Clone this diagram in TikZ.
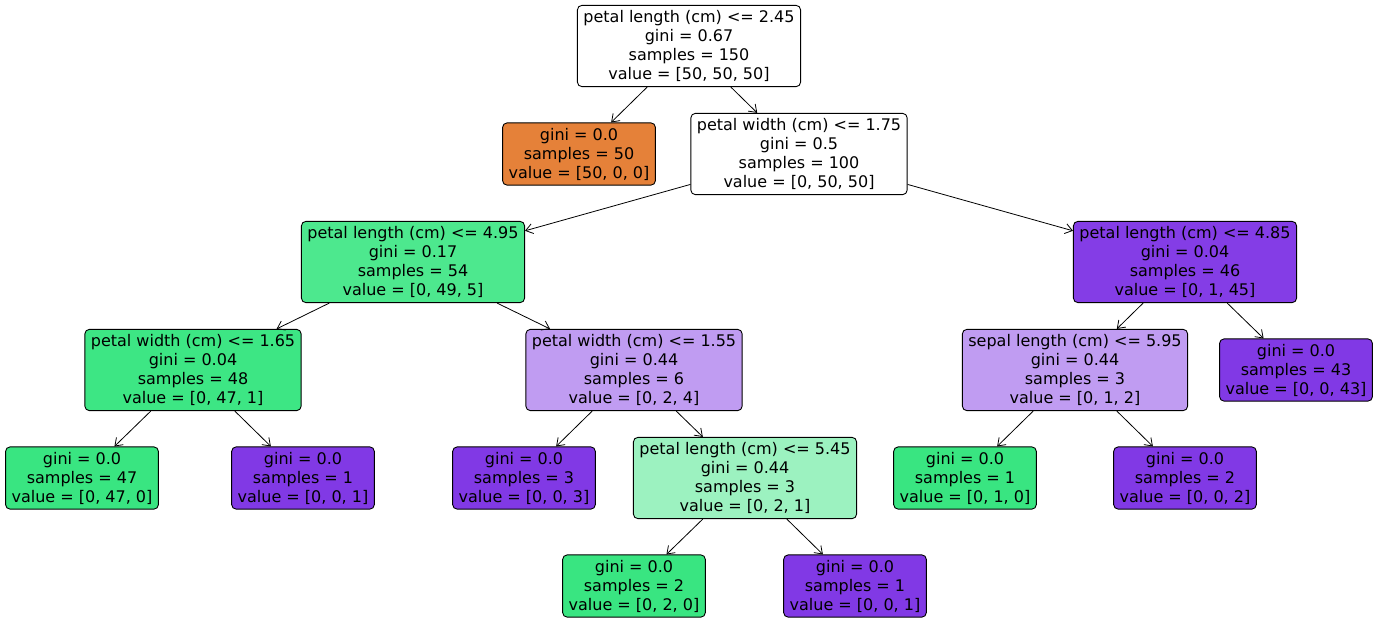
\documentclass[tikz,border=0pt]{standalone}
\usepackage{fontspec}
\setmainfont{DejaVu Sans}
\usetikzlibrary{arrows.meta,positioning}
\definecolor{setosacolor}{RGB}{229, 129, 57}
\definecolor{versicolor}{RGB}{57, 229, 129}
\definecolor{virginicacolor}{RGB}{129, 57, 229}

\begin{document}
\begin{tikzpicture}[
        x=1pt, y=-1pt,
        split/.style={rectangle, draw, rounded corners=4.5pt, align=center, inner xsep=6pt, inner ysep=5pt,
            line width=0.9pt, font=\fontsize{16}{19}\selectfont},
        leaf/.style={split},
        arrow/.style={-{Straight Barb[length=7pt, width=10pt]}, line width=0.8pt}
    ]
        \useasboundingbox (0,0) rectangle (1381,622);

        % Root
        \node[split, fill=white] (root) at (689,46) {petal length (cm) <= 2.45\\gini = 0.67\\samples = 150\\value = [50, 50, 50]};

        % Depth 1
        \node[leaf, fill=setosacolor] (setosa) at (579,154) {gini = 0.0\\samples = 50\\value = [50, 0, 0]};
        \node[split, fill=white] (pw175) at (799,154) {petal width (cm) <= 1.75\\gini = 0.5\\samples = 100\\value = [0, 50, 50]};
        \draw[arrow] (root) -- (setosa);
        \draw[arrow] (root) -- (pw175);

        % Depth 2
        \node[split, fill=versicolor!90!white] (pl495) at (413,262) {petal length (cm) <= 4.95\\gini = 0.17\\samples = 54\\value = [0, 49, 5]};
        \node[split, fill=virginicacolor!98!white] (pl485) at (1185,262) {petal length (cm) <= 4.85\\gini = 0.04\\samples = 46\\value = [0, 1, 45]};
        \draw[arrow] (pw175) -- (pl495);
        \draw[arrow] (pw175) -- (pl485);

        % Depth 3
        \node[split, fill=versicolor!98!white] (pw165) at (193,370) {petal width (cm) <= 1.65\\gini = 0.04\\samples = 48\\value = [0, 47, 1]};
        \node[split, fill=virginicacolor!50!white] (pw155) at (634,370) {petal width (cm) <= 1.55\\gini = 0.44\\samples = 6\\value = [0, 2, 4]};
        \node[split, fill=virginicacolor!50!white] (sl595) at (1075,370) {sepal length (cm) <= 5.95\\gini = 0.44\\samples = 3\\value = [0, 1, 2]};
        \node[leaf, fill=virginicacolor] (leaf43) at (1296,370) {gini = 0.0\\samples = 43\\value = [0, 0, 43]};
        \draw[arrow] (pl495) -- (pw165);
        \draw[arrow] (pl495) -- (pw155);
        \draw[arrow] (pl485) -- (sl595);
        \draw[arrow] (pl485) -- (leaf43);

        % Depth 4
        \node[leaf, fill=versicolor] (leaf47) at (82,478) {gini = 0.0\\samples = 47\\value = [0, 47, 0]};
        \node[leaf, fill=virginicacolor] (leaf1a) at (303,478) {gini = 0.0\\samples = 1\\value = [0, 0, 1]};
        \node[leaf, fill=virginicacolor] (leaf3) at (524,478) {gini = 0.0\\samples = 3\\value = [0, 0, 3]};
        \node[split, fill=versicolor!50!white] (pl545) at (745,478) {petal length (cm) <= 5.45\\gini = 0.44\\samples = 3\\value = [0, 2, 1]};
        \node[leaf, fill=versicolor] (leaf1b) at (965,478) {gini = 0.0\\samples = 1\\value = [0, 1, 0]};
        \node[leaf, fill=virginicacolor] (leaf2a) at (1185,478) {gini = 0.0\\samples = 2\\value = [0, 0, 2]};
        \draw[arrow] (pw165) -- (leaf47);
        \draw[arrow] (pw165) -- (leaf1a);
        \draw[arrow] (pw155) -- (leaf3);
        \draw[arrow] (pw155) -- (pl545);
        \draw[arrow] (sl595) -- (leaf1b);
        \draw[arrow] (sl595) -- (leaf2a);

        % Depth 5
        \node[leaf, fill=versicolor] (leaf2b) at (634,586) {gini = 0.0\\samples = 2\\value = [0, 2, 0]};
        \node[leaf, fill=virginicacolor] (leaf1c) at (855,586) {gini = 0.0\\samples = 1\\value = [0, 0, 1]};
        \draw[arrow] (pl545) -- (leaf2b);
        \draw[arrow] (pl545) -- (leaf1c);

    \end{tikzpicture}
\end{document}
